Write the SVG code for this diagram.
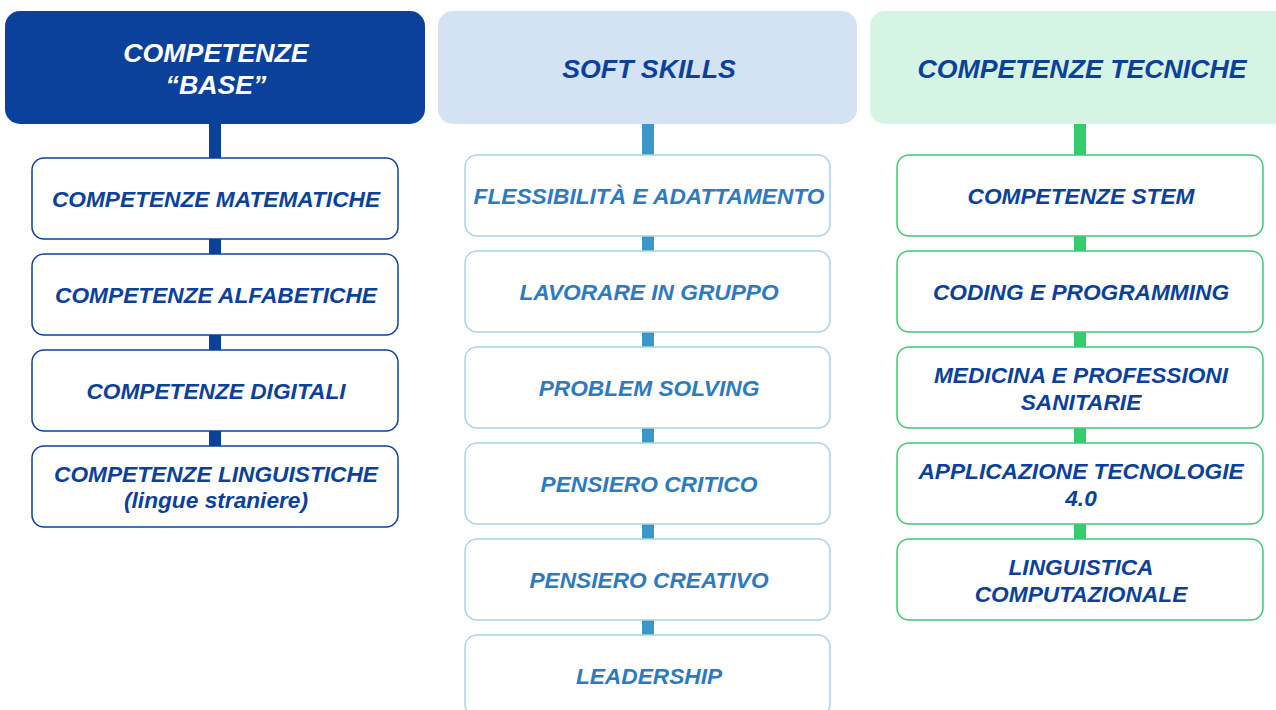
<svg xmlns="http://www.w3.org/2000/svg" width="1276" height="710" viewBox="0 0 1276 710">
<style>
text{font-family:"Liberation Sans",Arial,sans-serif;font-weight:bold;font-style:italic;text-anchor:middle}
.h{font-size:26.7px}
.t{font-size:22.7px}
.c1{fill:#fff;stroke:#0B419B;stroke-width:1.5}
.c2{fill:#fff;stroke:#A9D4EB;stroke-width:1.5}
.c3{fill:#fff;stroke:#3CCB74;stroke-width:1.5}
.tb{fill:#0B419B}
.tl{fill:#2E7AC0}
</style>
<rect width="1276" height="710" fill="#fff"/>
<g id="connectors">
<rect x="209" y="124" width="12" height="330" fill="#0B419B"/>
<rect x="642" y="124" width="12" height="520" fill="#3A97C8"/>
<rect x="1074" y="124" width="12" height="420" fill="#34CC6C"/>
</g>
<g id="h1"><rect x="5" y="11" width="420" height="113" rx="15" fill="#0B419B"/><text class="h" x="216" y="62" fill="#fff">COMPETENZE</text><text class="h" x="216" y="94" fill="#fff">“BASE”</text></g>
<g id="h2"><rect x="438" y="11" width="419" height="113" rx="15" fill="#D3E3F4"/><text class="h tb" x="649" y="78">SOFT SKILLS</text></g>
<g id="h3"><rect x="870" y="11" width="426" height="113" rx="15" fill="#D6F4E3"/><text class="h tb" x="1082" y="78">COMPETENZE TECNICHE</text></g>

<g id="a1"><rect class="c1" x="32" y="158" width="366" height="81" rx="12"/><text class="t tb" x="216" y="207">COMPETENZE MATEMATICHE</text></g>
<g id="a2"><rect class="c1" x="32" y="254" width="366" height="81" rx="12"/><text class="t tb" x="216" y="303">COMPETENZE ALFABETICHE</text></g>
<g id="a3"><rect class="c1" x="32" y="350" width="366" height="81" rx="12"/><text class="t tb" x="216" y="399">COMPETENZE DIGITALI</text></g>
<g id="a4"><rect class="c1" x="32" y="446" width="366" height="81" rx="12"/><text class="t tb" x="216" y="482">COMPETENZE LINGUISTICHE</text><text class="t tb" x="216" y="508">(lingue straniere)</text></g>

<g id="b1"><rect class="c2" x="465" y="155" width="365" height="81" rx="12"/><text class="t tl" x="649" y="204">FLESSIBILITÀ E ADATTAMENTO</text></g>
<g id="b2"><rect class="c2" x="465" y="251" width="365" height="81" rx="12"/><text class="t tl" x="649" y="300">LAVORARE IN GRUPPO</text></g>
<g id="b3"><rect class="c2" x="465" y="347" width="365" height="81" rx="12"/><text class="t tl" x="649" y="396">PROBLEM SOLVING</text></g>
<g id="b4"><rect class="c2" x="465" y="443" width="365" height="81" rx="12"/><text class="t tl" x="649" y="492">PENSIERO CRITICO</text></g>
<g id="b5"><rect class="c2" x="465" y="539" width="365" height="81" rx="12"/><text class="t tl" x="649" y="588">PENSIERO CREATIVO</text></g>
<g id="b6"><rect class="c2" x="465" y="635" width="365" height="81" rx="12"/><text class="t tl" x="649" y="684">LEADERSHIP</text></g>

<g id="c1"><rect class="c3" x="897" y="155" width="366" height="81" rx="12"/><text class="t tb" x="1081" y="204">COMPETENZE STEM</text></g>
<g id="c2"><rect class="c3" x="897" y="251" width="366" height="81" rx="12"/><text class="t tb" x="1081" y="300">CODING E PROGRAMMING</text></g>
<g id="c3"><rect class="c3" x="897" y="347" width="366" height="81" rx="12"/><text class="t tb" x="1081" y="383">MEDICINA E PROFESSIONI</text><text class="t tb" x="1081" y="410">SANITARIE</text></g>
<g id="c4"><rect class="c3" x="897" y="443" width="366" height="81" rx="12"/><text class="t tb" x="1081" y="479">APPLICAZIONE TECNOLOGIE</text><text class="t tb" x="1081" y="506">4.0</text></g>
<g id="c5"><rect class="c3" x="897" y="539" width="366" height="81" rx="12"/><text class="t tb" x="1081" y="575">LINGUISTICA</text><text class="t tb" x="1081" y="602">COMPUTAZIONALE</text></g>
</svg>
